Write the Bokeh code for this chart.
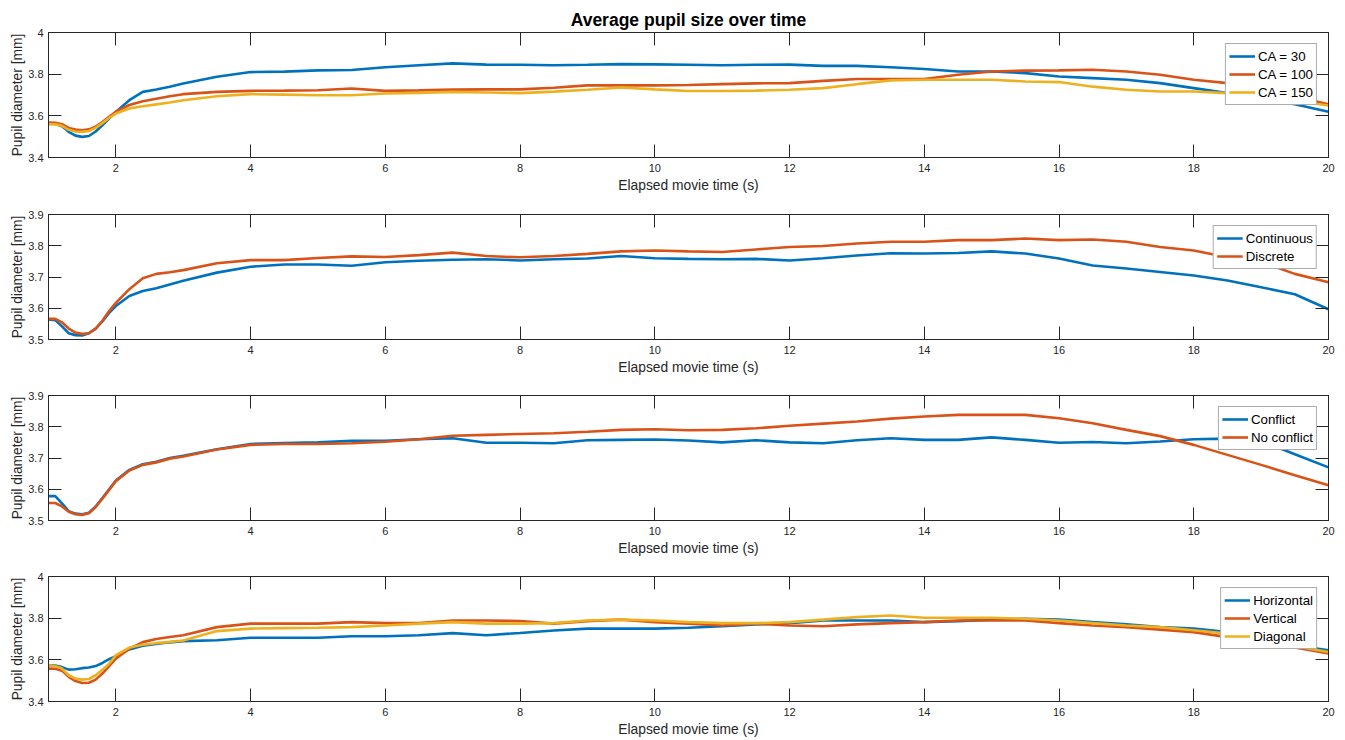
from bokeh.plotting import figure
from bokeh.layouts import column
from bokeh.models import FixedTicker, LinearAxis, Range1d
from bokeh.embed import file_html
from bokeh.resources import INLINE

# Sample times (s) shared by every averaged trace
t = [1.0, 1.1, 1.2, 1.3, 1.4, 1.5, 1.6, 1.7, 1.8, 1.9,
     2.0, 2.2, 2.4, 2.6, 2.8, 3.0, 3.5, 4.0, 4.5, 5.0,
     5.5, 6.0, 6.5, 7.0, 7.5, 8.0, 8.5, 9.0, 9.5, 10.0,
     10.5, 11.0, 11.5, 12.0, 12.5, 13.0, 13.5, 14.0, 14.5, 15.0,
     15.5, 16.0, 16.5, 17.0, 17.5, 18.0, 18.5, 19.0, 19.5, 20.0]

# Panel 1: collision angle
ca30 = [3.563, 3.562, 3.550, 3.523, 3.505, 3.499, 3.503, 3.525, 3.555, 3.587,
        3.619, 3.675, 3.715, 3.726, 3.740, 3.755, 3.788, 3.810, 3.812, 3.818,
        3.820, 3.833, 3.843, 3.852, 3.846, 3.845, 3.843, 3.845, 3.848, 3.847,
        3.845, 3.843, 3.845, 3.846, 3.840, 3.840, 3.833, 3.825, 3.813, 3.813,
        3.805, 3.789, 3.781, 3.773, 3.757, 3.733, 3.709, 3.677, 3.656, 3.620]
ca100 = [3.568, 3.567, 3.560, 3.542, 3.534, 3.531, 3.535, 3.548, 3.570, 3.595,
         3.620, 3.652, 3.670, 3.682, 3.694, 3.704, 3.715, 3.720, 3.721, 3.723,
         3.731, 3.720, 3.722, 3.726, 3.727, 3.727, 3.735, 3.746, 3.746, 3.746,
         3.748, 3.752, 3.756, 3.757, 3.768, 3.777, 3.777, 3.777, 3.797, 3.813,
         3.817, 3.818, 3.821, 3.813, 3.797, 3.773, 3.757, 3.733, 3.693, 3.656]
ca150 = [3.560, 3.559, 3.552, 3.533, 3.525, 3.523, 3.527, 3.542, 3.565, 3.590,
         3.611, 3.635, 3.646, 3.655, 3.664, 3.675, 3.694, 3.704, 3.702, 3.699,
         3.699, 3.707, 3.710, 3.715, 3.712, 3.709, 3.716, 3.725, 3.736, 3.727,
         3.719, 3.719, 3.721, 3.725, 3.733, 3.752, 3.770, 3.773, 3.773, 3.773,
         3.765, 3.762, 3.740, 3.725, 3.717, 3.717, 3.709, 3.690, 3.672, 3.650]

# Panel 2: motion type
continuous = [3.564, 3.562, 3.542, 3.520, 3.514, 3.513, 3.520, 3.535, 3.558, 3.585,
              3.607, 3.639, 3.655, 3.664, 3.676, 3.688, 3.714, 3.733, 3.740, 3.740,
              3.736, 3.747, 3.752, 3.755, 3.757, 3.753, 3.757, 3.759, 3.767, 3.760,
              3.758, 3.757, 3.758, 3.753, 3.760, 3.769, 3.776, 3.775, 3.777, 3.782,
              3.775, 3.759, 3.737, 3.727, 3.716, 3.705, 3.689, 3.667, 3.645, 3.597]
discrete = [3.566, 3.566, 3.555, 3.535, 3.522, 3.518, 3.520, 3.535, 3.560, 3.591,
            3.617, 3.661, 3.696, 3.710, 3.715, 3.722, 3.744, 3.754, 3.754, 3.761,
            3.766, 3.764, 3.770, 3.778, 3.767, 3.763, 3.767, 3.774, 3.782, 3.785,
            3.782, 3.780, 3.788, 3.796, 3.799, 3.807, 3.813, 3.813, 3.818, 3.818,
            3.823, 3.818, 3.820, 3.813, 3.796, 3.785, 3.763, 3.748, 3.710, 3.683]

# Panel 3: conflict condition
conflict = [3.578, 3.578, 3.555, 3.530, 3.522, 3.520, 3.525, 3.545, 3.572, 3.600,
            3.628, 3.662, 3.680, 3.688, 3.700, 3.707, 3.728, 3.745, 3.748, 3.750,
            3.755, 3.755, 3.760, 3.763, 3.749, 3.749, 3.747, 3.757, 3.758, 3.759,
            3.756, 3.750, 3.757, 3.750, 3.747, 3.757, 3.763, 3.758, 3.758, 3.766,
            3.758, 3.749, 3.751, 3.747, 3.753, 3.760, 3.762, 3.755, 3.712, 3.670]
no_conflict = [3.556, 3.556, 3.545, 3.528, 3.520, 3.518, 3.523, 3.543, 3.570, 3.598,
               3.626, 3.660, 3.678, 3.686, 3.698, 3.705, 3.727, 3.742, 3.745, 3.745,
               3.747, 3.752, 3.760, 3.771, 3.774, 3.777, 3.779, 3.784, 3.790, 3.792,
               3.789, 3.790, 3.795, 3.803, 3.810, 3.817, 3.826, 3.833, 3.838, 3.838,
               3.838, 3.827, 3.811, 3.790, 3.770, 3.742, 3.710, 3.678, 3.645, 3.613]

# Panel 4: motion direction
horizontal = [3.574, 3.573, 3.565, 3.553, 3.555, 3.560, 3.563, 3.570, 3.585, 3.603,
              3.618, 3.650, 3.668, 3.676, 3.684, 3.690, 3.694, 3.706, 3.706, 3.706,
              3.713, 3.713, 3.718, 3.728, 3.718, 3.729, 3.741, 3.750, 3.750, 3.750,
              3.754, 3.761, 3.770, 3.776, 3.789, 3.789, 3.789, 3.781, 3.786, 3.793,
              3.797, 3.793, 3.781, 3.770, 3.757, 3.750, 3.733, 3.708, 3.670, 3.646]
vertical = [3.558, 3.557, 3.548, 3.518, 3.498, 3.489, 3.490, 3.505, 3.534, 3.570,
            3.606, 3.654, 3.685, 3.700, 3.710, 3.718, 3.757, 3.774, 3.774, 3.774,
            3.781, 3.776, 3.776, 3.789, 3.789, 3.786, 3.774, 3.786, 3.793, 3.781,
            3.774, 3.765, 3.774, 3.765, 3.761, 3.770, 3.776, 3.781, 3.789, 3.789,
            3.789, 3.776, 3.765, 3.757, 3.745, 3.733, 3.709, 3.690, 3.659, 3.630]
diagonal = [3.574, 3.570, 3.558, 3.526, 3.510, 3.505, 3.508, 3.526, 3.552, 3.582,
            3.622, 3.659, 3.672, 3.680, 3.686, 3.693, 3.738, 3.750, 3.752, 3.754,
            3.757, 3.765, 3.774, 3.781, 3.774, 3.774, 3.776, 3.789, 3.793, 3.789,
            3.781, 3.776, 3.776, 3.781, 3.793, 3.805, 3.813, 3.802, 3.802, 3.802,
            3.797, 3.789, 3.776, 3.765, 3.757, 3.742, 3.726, 3.700, 3.665, 3.638]

x_ticks = [2, 4, 6, 8, 10, 12, 14, 16, 18, 20]
y_ticks_wide = [3.4, 3.6, 3.8, 4.0]
y_ticks_narrow = [3.5, 3.6, 3.7, 3.8, 3.9]

BLUE, ORANGE, YELLOW = "#0072BD", "#D95319", "#EDB120"
INK = "#262626"
FONT = "Liberation Sans"
TICK = 13


def tick_only_axis(ticks):
    # Mirror axis on the opposite side: inward ticks, no labels
    return LinearAxis(ticker=FixedTicker(ticks=[], minor_ticks=ticks),
                      minor_tick_in=TICK, minor_tick_out=0,
                      major_tick_in=0, major_tick_out=0,
                      axis_line_color=INK, minor_tick_line_color=INK,
                      major_label_standoff=0)


def panel(series, y_range, y_ticks, border_top, border_bottom, title=None):
    p = figure(frame_width=1280, frame_height=125,
               x_range=Range1d(1, 20), y_range=Range1d(*y_range),
               output_backend="svg", toolbar_location=None,
               min_border_left=48, min_border_right=17,
               min_border_top=border_top, min_border_bottom=border_bottom,
               x_axis_label="Elapsed movie time (s)",
               y_axis_label="Pupil diameter [mm]")
    p.grid.visible = False
    p.outline_line_color = INK
    p.outline_line_width = 1
    p.background_fill_color = "white"
    p.border_fill_color = "white"

    xa = p.below[0]
    ya = p.left[0]
    xa.ticker = FixedTicker(ticks=x_ticks, minor_ticks=[])
    ya.ticker = FixedTicker(ticks=y_ticks, minor_ticks=[])
    ya.major_label_overrides = {v: f"{v:g}" for v in y_ticks}
    for ax in (xa, ya):
        ax.major_tick_in = TICK
        ax.major_tick_out = 0
        ax.minor_tick_in = 0
        ax.minor_tick_out = 0
        ax.axis_line_color = INK
        ax.major_tick_line_color = INK
        ax.major_label_text_font = FONT
        ax.major_label_text_font_size = "11px"
        ax.major_label_text_color = INK
        ax.axis_label_text_font = FONT
        ax.axis_label_text_font_size = "13.8px"
        ax.axis_label_text_font_style = "normal"
        ax.axis_label_text_color = INK
    xa.major_label_standoff = 6
    xa.axis_label_standoff = 3
    ya.major_label_standoff = 5
    ya.axis_label_standoff = 0

    p.add_layout(tick_only_axis(x_ticks), "above")
    p.add_layout(tick_only_axis(y_ticks), "right")

    for label, values, color in series:
        p.line(t, values, color=color, line_width=2.6, legend_label=label)

    lg = p.legend[0]
    lg.location = "top_right"
    lg.margin = 11
    lg.padding = 3
    lg.spacing = 0
    lg.glyph_width = 26
    lg.glyph_height = 18
    lg.label_height = 18
    lg.label_standoff = 3
    lg.label_text_font = FONT
    lg.label_text_font_size = "13.3px"
    lg.label_text_color = "#000000"
    lg.border_line_color = "#5a5a5a"
    lg.border_line_width = 1
    lg.background_fill_color = "white"
    lg.background_fill_alpha = 1.0

    if title:
        p.title.text = title
        p.title.align = "center"
        p.title.text_font = FONT
        p.title.text_font_size = "17.5px"
        p.title.text_font_style = "bold"
        p.title.text_color = "#000000"
        p.title.standoff = 6
    return p


p1 = panel([("CA = 30", ca30, BLUE), ("CA = 100", ca100, ORANGE), ("CA = 150", ca150, YELLOW)],
           (3.4, 4.0), y_ticks_wide, 32, 43, title="Average pupil size over time")
p2 = panel([("Continuous", continuous, BLUE), ("Discrete", discrete, ORANGE)],
           (3.5, 3.9), y_ticks_narrow, 14, 42)
p3 = panel([("Conflict", conflict, BLUE), ("No conflict", no_conflict, ORANGE)],
           (3.5, 3.9), y_ticks_narrow, 14, 42)
p4 = panel([("Horizontal", horizontal, BLUE), ("Vertical", vertical, ORANGE), ("Diagonal", diagonal, YELLOW)],
           (3.4, 4.0), y_ticks_wide, 14, 39)

layout = column(p1, p2, p3, p4, spacing=0)

open("out.html", "w").write(file_html(layout, INLINE))
